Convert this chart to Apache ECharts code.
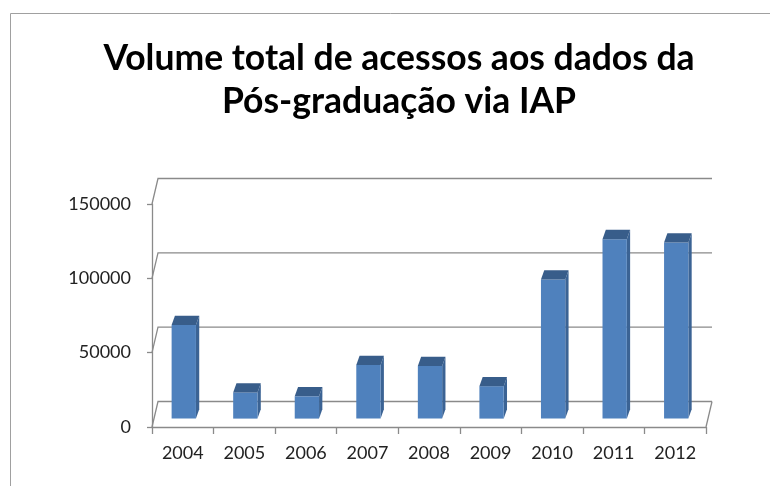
<!DOCTYPE html>
<html>
<head>
<meta charset="utf-8">
<script src="https://cdn.jsdelivr.net/npm/echarts@6/dist/echarts.min.js"></script>
<style>
  html, body { margin: 0; padding: 0; background: #fff; }
  #chart { width: 770px; height: 486px; }
</style>
</head>
<body>
<div id="chart"></div>
<script>
// data
const years = ['2004', '2005', '2006', '2007', '2008', '2009', '2010', '2011', '2012'];
const accesses = [63000, 17600, 15000, 36000, 35400, 21800, 93600, 120700, 118500];
const yTicks = [0, 50000, 100000, 150000];

// fake 3d look, in pixels
const WALL_DX = 6, WALL_DY = -25.5;   // front plane -> back wall
const FACE_DX = 1, FACE_DY = -8.4;    // front plane -> bar front face
const BAR_DX = 3.3, BAR_DY = -9.3;    // bar depth
const LINE = '#8a8a8a';

const chart = echarts.init(document.getElementById('chart'));

function wallItem(params, api) {
    const v = api.value(1);
    const band = api.size([1, 0])[0];
    const left = api.coord([0, v])[0] - band / 2;
    const right = api.coord([years.length - 1, v])[0] + band / 2;
    const y = api.coord([0, v])[1];
    const children = [{
        type: 'polyline',
        shape: { points: [[left, y], [left + WALL_DX, y + WALL_DY], [right + WALL_DX, y + WALL_DY]] },
        style: { stroke: LINE, lineWidth: 1.3, fill: null }
    }];
    if (v === 0) {
        // right edge of the floor
        children.push({
            type: 'line',
            shape: { x1: right, y1: y, x2: right + WALL_DX, y2: y + WALL_DY },
            style: { stroke: LINE, lineWidth: 1.3 }
        });
    }
    return { type: 'group', children: children };
}

function barItem(params, api) {
    const base = api.coord([api.value(0), 0]);
    const top = api.coord([api.value(0), api.value(1)]);
    const band = api.size([1, 0])[0];
    const w = band * 0.395;
    const x0 = base[0] - w / 2 + FACE_DX;
    const yb = base[1] + FACE_DY;
    const yt = top[1] + FACE_DY;
    return {
        type: 'group',
        children: [
            {
                type: 'polygon',
                shape: { points: [[x0 + w, yt], [x0 + w + BAR_DX, yt + BAR_DY], [x0 + w + BAR_DX, yb + BAR_DY], [x0 + w, yb]] },
                style: { fill: '#3b6394' }
            },
            {
                type: 'rect',
                shape: { x: x0, y: yt, width: w, height: yb - yt },
                style: { fill: '#4f81bd' }
            },
            {
                type: 'polygon',
                shape: { points: [[x0, yt], [x0 + w, yt], [x0 + w + BAR_DX, yt + BAR_DY], [x0 + BAR_DX, yt + BAR_DY]] },
                style: { fill: '#385d8a' }
            }
        ]
    };
}

chart.setOption({
    animation: false,
    title: {
        text: 'Volume total de acessos aos dados da\nPós-graduação via IAP',
        left: 394,
        textAlign: 'center',
        top: 32,
        textStyle: {
            fontFamily: 'Lato',
            fontWeight: 'bold',
            fontSize: 35.5,
            lineHeight: 43,
            color: '#000'
        }
    },
    graphic: [{
        type: 'rect',
        shape: { x: 10.5, y: 13.5, width: 800, height: 500 },
        style: { fill: null, stroke: '#a0a0a0', lineWidth: 1 },
        silent: true
    }],
    grid: { left: 152, right: 64, top: 204, bottom: 59 },
    xAxis: {
        type: 'category',
        data: years,
        axisLine: { lineStyle: { color: LINE, width: 1.3 } },
        axisTick: { show: true, length: 7, lineStyle: { color: LINE, width: 1.3 } },
        axisLabel: { margin: 17, fontFamily: 'Lato', fontSize: 18, color: '#222' },
        splitLine: { show: false }
    },
    yAxis: {
        type: 'value',
        min: 0,
        max: 150000,
        interval: 50000,
        axisLine: { show: true, lineStyle: { color: LINE, width: 1.3 } },
        axisTick: { show: true, length: 5, lineStyle: { color: LINE, width: 1.3 } },
        axisLabel: {
            margin: 21, fontFamily: 'Lato', fontSize: 18, color: '#222',
            formatter: v => String(v)
        },
        splitLine: { show: false }
    },
    series: [
        {
            type: 'custom',
            name: 'walls',
            z: 1,
            silent: true,
            renderItem: wallItem,
            data: yTicks.map(v => [0, v])
        },
        {
            type: 'custom',
            name: 'Acessos',
            z: 3,
            renderItem: barItem,
            data: accesses.map((v, i) => [i, v])
        }
    ]
});
</script>
</body>
</html>
